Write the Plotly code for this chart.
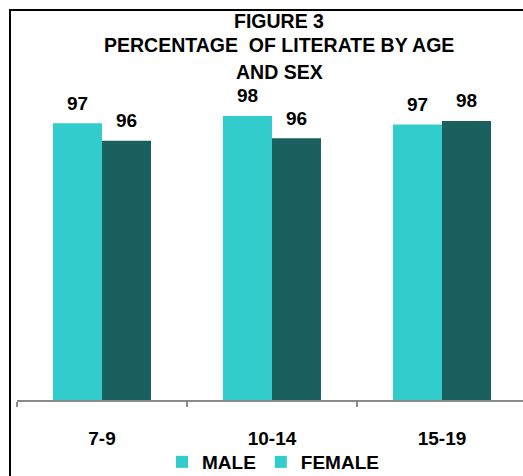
import plotly.graph_objects as go

categories = ["7-9", "10-14", "15-19"]
male = [97.4, 98.0, 97.3]
female = [96.0, 96.2, 97.6]
series_names = ["MALE", "FEMALE"]
title_lines = ["FIGURE 3", "PERCENTAGE  OF LITERATE BY AGE", "AND SEX"]

MALE_C = "#33CCCC"
FEMALE_C = "#1A605E"
FONT = "Liberation Sans, Arial, sans-serif"

W, H = 523, 476
ML, MR, MT, MB = 17, 0, 100, 76
plot_w = W - ML - MR
plot_h = H - MT - MB
cat_px = 170.0
bargap = 1 - 98.0 / cat_px
bar_px = cat_px * (1 - bargap) / 2


def px_x(p):
    return (p - ML) / plot_w


def px_y(p):
    return (H - MB - p) / plot_h


fig = go.Figure()
fig.add_trace(go.Bar(x=categories, y=male, name=series_names[0],
                     marker=dict(color=MALE_C, line=dict(width=0)),
                     offsetgroup="m", showlegend=False))
fig.add_trace(go.Bar(x=categories, y=female, name=series_names[1],
                     marker=dict(color=FEMALE_C, line=dict(width=0)),
                     offsetgroup="f", showlegend=False))
# legend entries (reference shows both swatches in cyan)
for nm, grp in zip(series_names, ["m", "f"]):
    fig.add_trace(go.Bar(x=[None], y=[None], name=nm, offsetgroup=grp,
                         marker=dict(color=MALE_C, line=dict(width=0)),
                         showlegend=True))

annotations = []
for vals, sh in ((male, -bar_px / 2), (female, bar_px / 2)):
    for c, v in zip(categories, vals):
        annotations.append(dict(x=c, y=v, xref="x", yref="y", text=f"{v:.0f}",
                                showarrow=False, xshift=sh, yshift=20,
                                yanchor="middle",
                                font=dict(family=FONT, size=19, color="black",
                                          weight="bold")))

for txt, yp in zip(title_lines, [21, 45, 72]):
    annotations.append(dict(x=px_x(279), y=px_y(yp), xref="paper", yref="paper",
                            text=txt, showarrow=False, xanchor="center",
                            yanchor="middle",
                            font=dict(family=FONT, size=19.5, color="black",
                                      weight="bold")))

fig.update_layout(
    width=W, height=H,
    margin=dict(l=ML, r=MR, t=MT, b=MB, pad=0, autoexpand=False),
    paper_bgcolor="white", plot_bgcolor="white",
    barmode="group", bargap=bargap, bargroupgap=0,
    showlegend=True,
    legend=dict(orientation="h", xref="container", x=273 / W, xanchor="center",
                yref="container", y=1 - 443 / H, yanchor="top",
                font=dict(family=FONT, size=19, color="black", weight="bold"),
                itemwidth=30, tracegroupgap=0, bgcolor="rgba(0,0,0,0)"),
    annotations=annotations,
    shapes=[dict(type="rect", xref="paper", yref="paper",
                 x0=px_x(10), x1=1.1, y0=-0.5, y1=px_y(10),
                 line=dict(color="black", width=2), fillcolor="rgba(0,0,0,0)")],
    xaxis=dict(type="category", range=[-0.5, -0.5 + plot_w / cat_px],
               showline=True, linecolor="#898989", linewidth=2,
               ticks="outside", tickson="boundaries", ticklen=5, tickwidth=2,
               tickcolor="#898989", showgrid=False, ticklabelstandoff=20,
               automargin=False,
               tickfont=dict(family=FONT, size=19, color="black", weight="bold")),
    yaxis=dict(range=[75, 75 + plot_h / 12.35], visible=False,
               showgrid=False, zeroline=False, automargin=False),
)

fig.write_html("out.html")
